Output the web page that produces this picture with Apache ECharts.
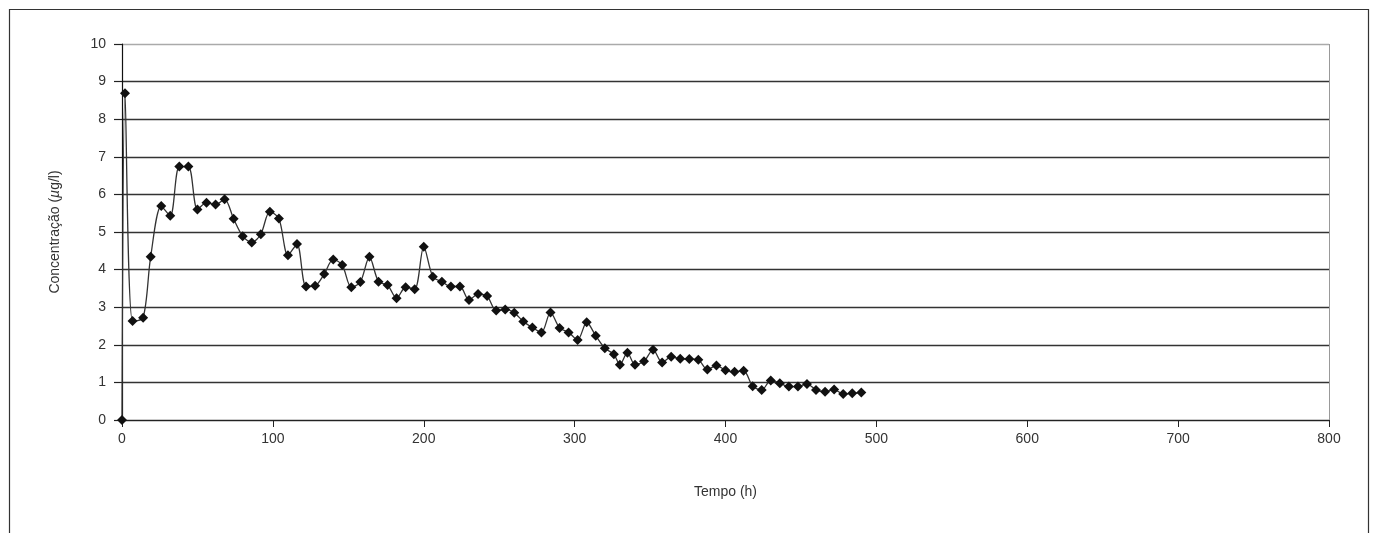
<!DOCTYPE html>
<html>
<head>
<meta charset="utf-8">
<script src="https://cdn.jsdelivr.net/npm/echarts@6/dist/echarts.min.js"></script>
<style>
html,body{margin:0;padding:0;background:#fff;}
#c{width:1373px;height:533px;}
</style>
</head>
<body>
<div id="c"></div>
<script>
const tempo = [0,2,7,14,19,26,32,38,44,50,56,62,68,74,80,86,92,98,104,110,116,122,128,134,140,146,152,158,164,170,176,182,188,194,200,206,212,218,224,230,236,242,248,254,260,266,272,278,284,290,296,302,308,314,320,326,330,335,340,346,352,358,364,370,376,382,388,394,400,406,412,418,424,430,436,442,448,454,460,466,472,478,484,490];
const concentracao = [0,8.69,2.63,2.72,4.34,5.69,5.43,6.74,6.74,5.60,5.78,5.73,5.87,5.35,4.89,4.72,4.94,5.54,5.36,4.38,4.68,3.55,3.57,3.88,4.27,4.12,3.53,3.67,4.34,3.68,3.59,3.24,3.53,3.48,4.61,3.81,3.68,3.55,3.55,3.19,3.35,3.30,2.91,2.94,2.85,2.62,2.46,2.33,2.86,2.45,2.33,2.13,2.60,2.24,1.91,1.75,1.47,1.79,1.47,1.56,1.87,1.53,1.68,1.63,1.62,1.60,1.34,1.45,1.32,1.28,1.31,0.90,0.80,1.05,0.98,0.89,0.89,0.96,0.80,0.75,0.81,0.69,0.71,0.73];
const xTicks = [0,100,200,300,400,500,600,700,800];
const yTicks = [0,1,2,3,4,5,6,7,8,9,10];

const chart = echarts.init(document.getElementById('c'), null, {renderer:'canvas'});
const font = 'Liberation Sans';
const ySplitColors = yTicks.map(v => v === 10 ? '#aaaaaa' : '#333333');
const xSplitColors = xTicks.map(v => v === 800 ? '#999999' : 'rgba(0,0,0,0)');
chart.setOption({
  animation:false,
  backgroundColor:'#fff',
  graphic:[{
    type:'rect', shape:{x:9.5,y:9.5,width:1359,height:700},
    style:{fill:'none',stroke:'#333',lineWidth:1.2}, silent:true
  }],
  grid:{left:122, top:44, right:44, bottom:113},
  xAxis:{
    type:'value', min:0, max:800, interval:100,
    name:'Tempo (h)', nameLocation:'middle', nameGap:65,
    nameTextStyle:{fontFamily:font, fontSize:14, color:'#333'},
    axisLine:{show:true, onZero:false, lineStyle:{color:'#222', width:1}},
    axisTick:{show:true, length:7, lineStyle:{color:'#222'}},
    axisLabel:{fontFamily:font, fontSize:14, color:'#333', margin:12, formatter: v => xTicks.includes(v) ? String(v) : ''},
    splitLine:{show:true, lineStyle:{color:xSplitColors, width:1}}
  },
  yAxis:{
    type:'value', min:0, max:10, interval:1,
    name:'Concentração ({i|µ}g/l)', nameLocation:'middle', nameGap:60, nameRotate:90,
    nameTextStyle:{fontFamily:font, fontSize:14, color:'#333', rich:{i:{fontStyle:'italic', fontFamily:font, fontSize:14, color:'#333'}}},
    axisLine:{show:true, lineStyle:{color:'#111', width:1.2}},
    axisTick:{show:true, length:8, lineStyle:{color:'#222', width:1.2}},
    axisLabel:{fontFamily:font, fontSize:14, color:'#333', margin:16, formatter: v => yTicks.includes(v) ? String(v) : ''},
    splitLine:{show:true, lineStyle:{color:ySplitColors, width:1.3}}
  },
  series:[{
    type:'line',
    data: tempo.map((t,i)=>[t, concentracao[i]]),
    smooth:0.3,
    symbol:'diamond', symbolSize:10,
    itemStyle:{color:'#111'},
    lineStyle:{color:'#333', width:1.3}
  }]
});
</script>
</body>
</html>
